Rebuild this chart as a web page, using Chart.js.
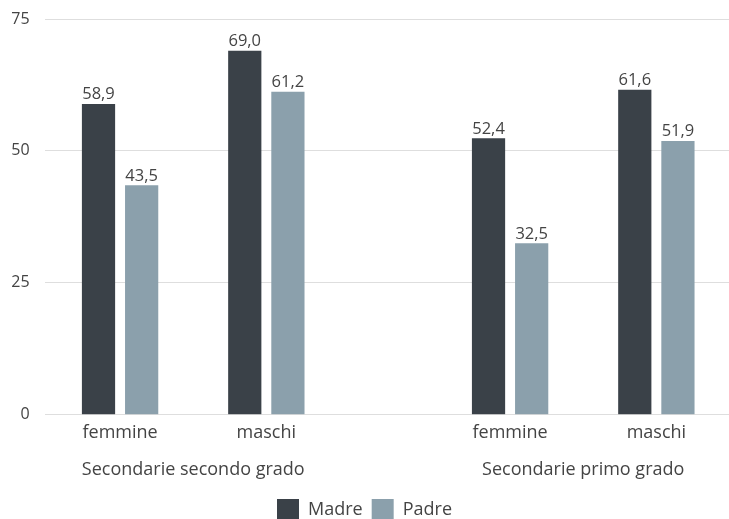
<!DOCTYPE html>
<html>
<head>
<meta charset="utf-8">
<script src="https://cdn.jsdelivr.net/npm/chart.js@4"></script>
<style>
  body { margin: 0; background: #fff; overflow: hidden; }
  #wrap { width: 729px; height: 531px; }
</style>
</head>
<body>
<div id="wrap"><canvas id="myChart"></canvas></div>
<script>
'use strict';

// categories, placed on a linear x axis so the two school groups sit apart
const categories = ['femmine', 'maschi', 'femmine', 'maschi'];
const catPos = [0, 3, 8, 11];
const groups = ['Secondarie secondo grado', 'Secondarie primo grado'];
const groupPos = [1.5, 9.5];

const madre = [58.9, 69.0, 52.4, 61.6];
const padre = [43.5, 61.2, 32.5, 51.9];

const yTicks = [0, 25, 50, 75];

const textColor = '#444';
const fontFamily = '"Open Sans", sans-serif';
const xMin = -1.54;
const xMax = 12.49;

function points(values){
  return values.map((v, i) => ({ x: catPos[i], y: v }));
}

// draw the value above each bar
const barLabels = {
  id: 'barLabels',
  afterDatasetsDraw(chart){
    const ctx = chart.ctx;
    ctx.save();
    ctx.font = '16.5px ' + fontFamily;
    ctx.fillStyle = textColor;
    ctx.textAlign = 'center';
    ctx.textBaseline = 'bottom';
    chart.data.datasets.forEach((ds, di) => {
      chart.getDatasetMeta(di).data.forEach((bar, i) => {
        const txt = ds.data[i].y.toFixed(1).replace('.', ',');
        ctx.fillText(txt, bar.x, bar.y - 1);
      });
    });
    ctx.restore();
  }
};

let ctx = document.getElementById('myChart').getContext('2d');
let chart = new Chart(ctx, {
  type: 'bar',
  data: {
    datasets: [{
      label: 'Madre',
      backgroundColor: '#3a4148',
      data: points(madre)
    },{
      label: 'Padre',
      backgroundColor: '#8ba0ac',
      data: points(padre)
    }]
  },
  plugins: [barLabels],
  options: {
    responsive: true,
    maintainAspectRatio: false,
    animation: false,
    categoryPercentage: 0.59,
    barPercentage: 0.77,
    layout: { padding: 0 },
    plugins: {
      legend: {
        position: 'bottom',
        labels: {
          boxWidth: 22,
          boxHeight: 22,
          padding: 9,
          color: textColor,
          font: { family: fontFamily, size: 18 }
        }
      },
      tooltip: { enabled: false }
    },
    scales: {
      x: {
        type: 'linear',
        min: xMin,
        max: xMax,
        offset: false,
        grid: { display: false, drawTicks: false },
        border: { display: false },
        afterBuildTicks(axis){
          axis.ticks = catPos.map(v => ({ value: v }));
        },
        ticks: {
          autoSkip: false,
          maxRotation: 0,
          padding: 7,
          color: textColor,
          font: { family: fontFamily, size: 18 },
          callback(value){
            const i = catPos.indexOf(value);
            return i >= 0 ? categories[i] : '';
          }
        }
      },
      x2: {
        type: 'linear',
        position: 'bottom',
        min: xMin,
        max: xMax,
        offset: false,
        grid: { display: false, drawTicks: false },
        border: { display: false },
        afterBuildTicks(axis){
          axis.ticks = groupPos.map(v => ({ value: v }));
        },
        ticks: {
          autoSkip: false,
          maxRotation: 0,
          padding: 9,
          color: textColor,
          font: { family: fontFamily, size: 18 },
          callback(value){
            const i = groupPos.indexOf(value);
            return i >= 0 ? groups[i] : '';
          }
        }
      },
      y: {
        min: 0,
        max: 75,
        afterFit(axis){ axis.width = 45; },
        afterBuildTicks(axis){
          axis.ticks = yTicks.map(v => ({ value: v }));
        },
        grid: { color: '#dedede', drawTicks: true, tickLength: 6, tickColor: 'rgba(0,0,0,0)' },
        border: { display: false },
        ticks: {
          padding: 9.4,
          color: textColor,
          font: { family: fontFamily, size: 16 }
        }
      }
    }
  }
});
</script>
</body>
</html>
